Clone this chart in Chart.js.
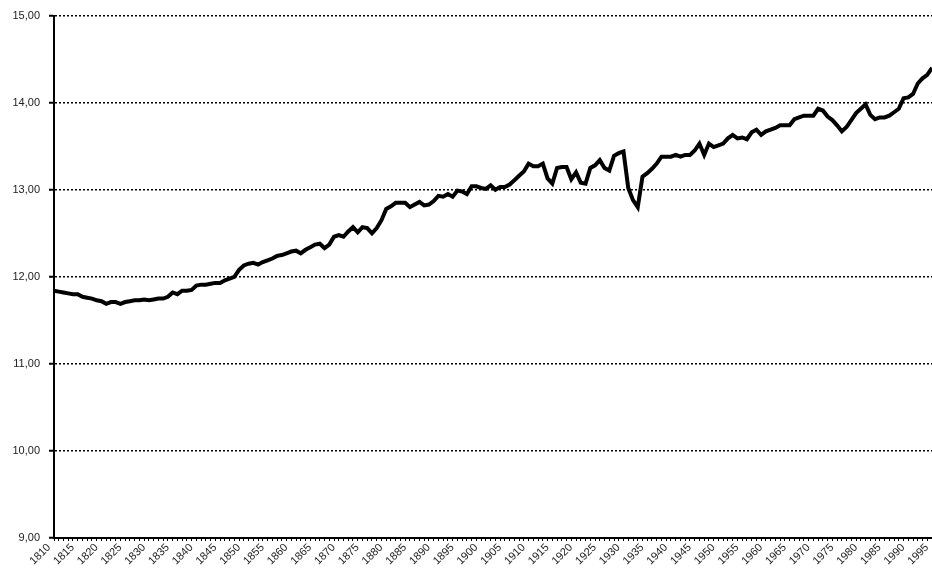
<!DOCTYPE html>
<html>
<head>
<meta charset="utf-8">
<script src="https://cdn.jsdelivr.net/npm/chart.js@4/dist/chart.umd.min.js"></script>
<style>
  html, body { margin: 0; padding: 0; background: #fff; }
  #wrap { width: 932px; height: 569px; }
</style>
</head>
<body>
<div id="wrap"><canvas id="lineChart"></canvas></div>
<script>
// yearly values 1810 - 1995
const values = [
  11.84, 11.83, 11.82, 11.81, 11.80, 11.80, 11.77, 11.76, 11.75, 11.73,
  11.72, 11.69, 11.71, 11.71, 11.69, 11.71, 11.72, 11.73, 11.73, 11.74,
  11.73, 11.74, 11.75, 11.75, 11.77, 11.82, 11.80, 11.84, 11.84, 11.85,
  11.90, 11.91, 11.91, 11.92, 11.93, 11.93, 11.96, 11.98, 12.00, 12.08,
  12.13, 12.15, 12.16, 12.14, 12.17, 12.19, 12.21, 12.24, 12.25, 12.27,
  12.29, 12.30, 12.27, 12.31, 12.34, 12.37, 12.38, 12.33, 12.37, 12.46,
  12.48, 12.46, 12.52, 12.57, 12.51, 12.57, 12.56, 12.50, 12.56, 12.65,
  12.78, 12.81, 12.85, 12.85, 12.85, 12.80, 12.83, 12.86, 12.82, 12.83,
  12.87, 12.93, 12.92, 12.95, 12.92, 12.99, 12.98, 12.95, 13.04, 13.04,
  13.02, 13.01, 13.05, 13.00, 13.03, 13.03, 13.06, 13.11, 13.16, 13.21,
  13.30, 13.27, 13.27, 13.30, 13.13, 13.07, 13.25, 13.26, 13.26, 13.12,
  13.20, 13.08, 13.07, 13.25, 13.28, 13.34, 13.25, 13.22, 13.39, 13.42,
  13.44, 13.02, 12.88, 12.80, 13.15, 13.19, 13.24, 13.30, 13.38, 13.38,
  13.38, 13.40, 13.38, 13.40, 13.40, 13.45, 13.53, 13.40, 13.53, 13.49,
  13.51, 13.53, 13.59, 13.63, 13.59, 13.60, 13.58, 13.66, 13.69, 13.63,
  13.67, 13.69, 13.71, 13.74, 13.74, 13.74, 13.81, 13.83, 13.85, 13.85,
  13.85, 13.93, 13.91, 13.84, 13.80, 13.74, 13.67, 13.72, 13.80, 13.88,
  13.93, 13.98, 13.86, 13.81, 13.83, 13.83, 13.85, 13.89, 13.93, 14.05,
  14.06, 14.10, 14.22, 14.28, 14.32, 14.40
];
const firstYear = 1810;
const years = values.map((v, i) => String(firstYear + i));
const labelEvery = 5;

const yMin = 9;
const yMax = 15;
const yStep = 1;

const ctx = document.getElementById("lineChart");

new Chart(ctx, {
  type: "line",
  data: {
    labels: years,
    datasets: [
      {
        data: values,
        borderColor: "#000",
        borderWidth: 4,
        pointRadius: 0,
        tension: 0,
        fill: false,
      },
    ],
  },
  options: {
    responsive: true,
    maintainAspectRatio: false,
    animation: false,
    layout: { padding: { top: 15, right: 0, left: 0, bottom: 0 } },
    plugins: {
      legend: { display: false },
      tooltip: { enabled: false },
    },
    scales: {
      x: {
        type: "category",
        offset: false,
        grid: {
          drawOnChartArea: false,
          drawTicks: true,
          tickLength: 3,
          color: "#000",
          lineWidth: 1,
        },
        border: { color: "#000", width: 2 },
        ticks: {
          autoSkip: false,
          maxRotation: 45,
          minRotation: 45,
          padding: 0,
          labelOffset: -5,
          color: "#222",
          font: { family: "Arial, 'Liberation Sans', sans-serif", size: 11 },
          callback: function (val, i) {
            const y = Number(years[i]);
            return y % labelEvery === 0 ? years[i] : "";
          },
        },
        afterFit: (scale) => {
          scale.height = 31;
          scale.paddingLeft = 0;
          scale.paddingRight = 0;
        },
      },
      y: {
        min: yMin,
        max: yMax,
        grid: {
          color: "#000",
          lineWidth: 1.5,
          tickLength: 5,
          tickWidth: 2,
          tickBorderDash: [],
        },
        border: { color: "#000", width: 2, dash: [2, 2] },
        ticks: {
          stepSize: yStep,
          padding: 9,
          color: "#222",
          font: { family: "Arial, 'Liberation Sans', sans-serif", size: 11 },
          callback: (v) => v.toFixed(2).replace(".", ","),
        },
        afterFit: (scale) => {
          scale.width = 54;
        },
      },
    },
  },
});
</script>
</body>
</html>
